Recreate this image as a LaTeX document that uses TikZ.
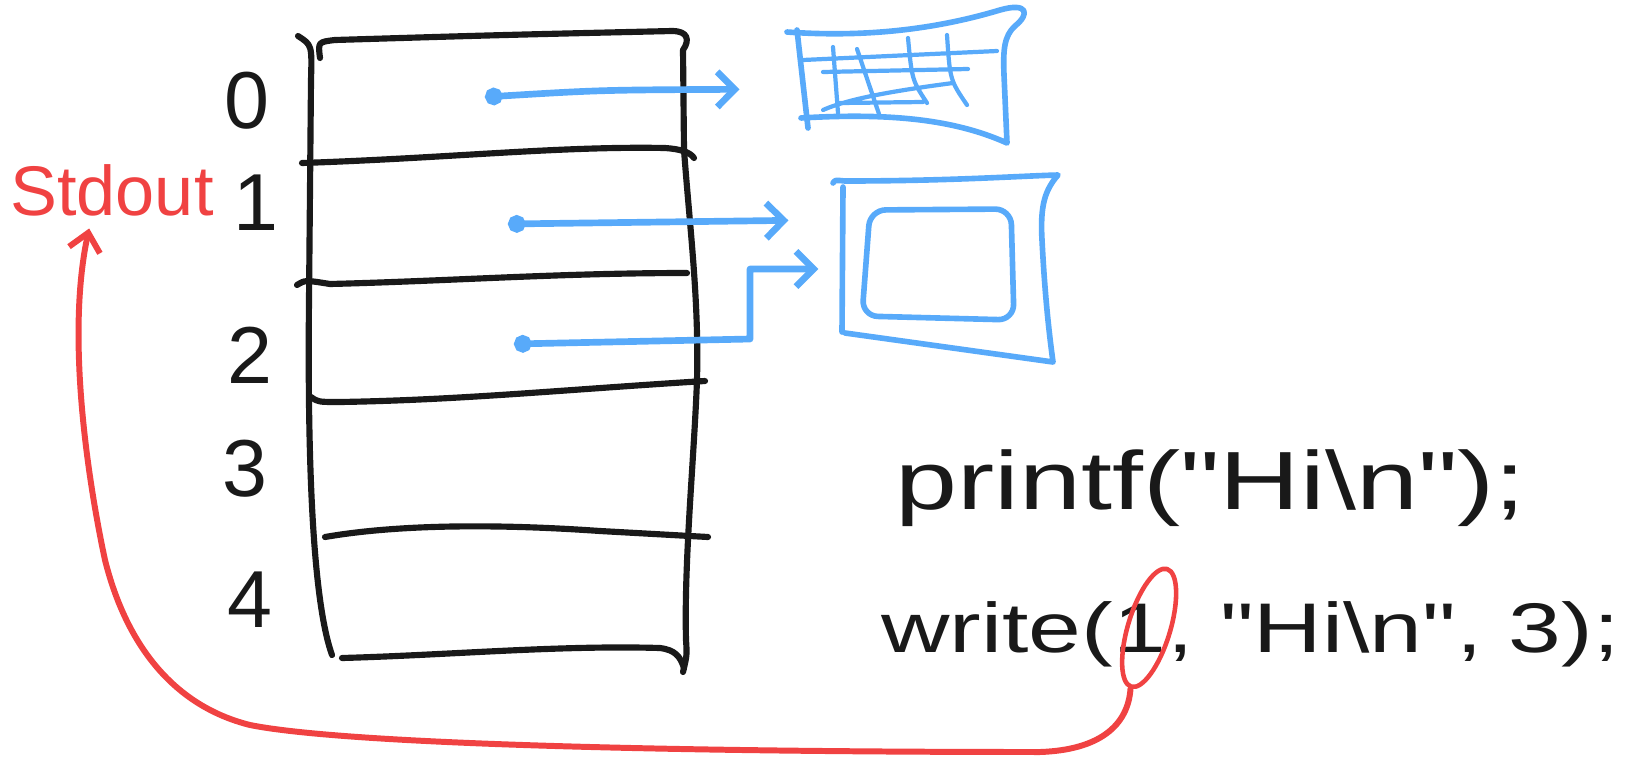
\documentclass[tikz,border=0pt]{standalone}
\usepackage{fontspec}
\setmainfont{Liberation Sans}
\newfontfamily\handfont[FakeStretch=1.35]{Liberation Sans}
\usetikzlibrary{arrows.meta,shapes.geometric}
\definecolor{inkc}{RGB}{25,25,25}
\definecolor{fdblue}{RGB}{88,170,250}
\definecolor{fdred}{RGB}{240,66,66}
\begin{document}
\begin{tikzpicture}[x=0.02cm,y=-0.02cm,line cap=round,line join=round,
  tab/.style={draw=inkc,line width=3.5pt},
  dev/.style={draw=fdblue,line width=3.2pt},
  devthin/.style={draw=fdblue,line width=2.4pt},
  fdline/.style={draw=fdblue,line width=3.8pt,{Circle[length=10pt]}-{Straight Barb[length=10pt,width=20pt]}},
  redline/.style={draw=fdred,line width=3.4pt},
  num/.style={font=\fontsize{46}{50}\selectfont,text=inkc},
  code/.style={anchor=base west,inner sep=0pt,text=inkc},
  devbox/.style={inner sep=0pt}]
\useasboundingbox (0,0) rectangle (1635,761);
% table
\draw[tab] (320,58) .. controls (318,42) .. (335,40) .. controls (500,35) .. (672,31) .. controls (688,31) and (690,40) .. (683,50) -- (684,150) .. controls (690,230) and (699,300) .. (697,380) .. controls (694,460) and (684,560) .. (686,640) .. controls (687,655) .. (683,672);
\draw[tab] (298,36) .. controls (312,45) .. (311,80) -- (309,300) .. controls (307,500) and (316,610) .. (332,655);
\draw[tab] (302,163) .. controls (450,158) and (560,146) .. (665,148) .. controls (680,149) and (690,152) .. (694,158);
\draw[tab] (297,285) .. controls (305,280) .. (330,284) .. controls (450,281) and (560,273) .. (687,273);
\draw[tab] (311,397) .. controls (318,402) .. (340,402) .. controls (460,400) and (560,390) .. (705,381);
\draw[tab] (325,537) .. controls (400,524) and (500,524) .. (600,531) -- (708,537);
\draw[tab] (342,658) .. controls (450,655) and (560,645) .. (660,648) .. controls (675,650) and (680,656) .. (684,668);
\foreach \i/\x/\y in {0/247/101,1/256/203,2/250/355,3/245/469,4/250/600}
  \node[num] (n\i) at (\x,\y) {\i};
\coordinate (p0) at (485,97);
\coordinate (p1) at (508,224);
\coordinate (p2) at (514,344);
% keyboard
\node[devbox,minimum width=128pt,minimum height=77pt] (kbd) at (905,75) {};
\draw[dev] (787,32) .. controls (870,38) and (940,28) .. (1000,10) .. controls (1028,2) and (1030,14) .. (1015,26) .. controls (1004,36) and (1003,50) .. (1004,75) -- (1007,143) .. controls (960,122) and (900,112) .. (801,118);
\draw[dev] (797,30) -- (808,128);
\draw[devthin] (803,60) -- (997,51) (823,72) -- (968,69) (823,110) .. controls (850,98) and (900,90) .. (953,83) (840,103) -- (923,102)
  (833,47) -- (838,113) (857,49) -- (880,117) (908,38) .. controls (912,80) .. (927,103) (947,35) .. controls (950,80) .. (967,105);
% monitor
\node[devbox,minimum width=129pt,minimum height=106pt] (scr) at (946,269) {};
\draw[dev] (833,183) .. controls (835,180) .. (845,181) .. controls (950,181) and (1020,176) .. (1058,175) .. controls (1045,190) and (1040,205) .. (1042,240) .. controls (1045,300) and (1050,340) .. (1053,362) -- (845,333);
\draw[dev] (843,187) -- (842,332);
\draw[dev,rounded corners=9pt] (870,210) -- (1011,209) -- (1014,320) -- (862,316) -- cycle;
% descriptors
\draw[fdline,shorten >=30pt] (p0) .. controls (600,90) .. ([yshift=-8pt]kbd.west);
\draw[fdline,shorten >=25pt] (p1) -- ([yshift=28pt]scr.west);
\draw[fdline,shorten >=8pt] (p2) -- ++(236,-5) |- (scr.west);
% code
\node[code,font=\handfont\fontsize{47}{52}\selectfont] (pf) at (895,509) {printf("Hi\textbackslash n");};
\node[code,font=\handfont\fontsize{40}{44}\selectfont] (wr) at (881,652) {write(};
\node[code,font=\handfont\fontsize{40}{44}\selectfont] (one) at (wr.base east) {1};
\node[code,font=\handfont\fontsize{40}{44}\selectfont] (wrest) at (one.base east) {, "Hi\textbackslash n", 3);};
\node[ellipse,draw=fdred,line width=2.6pt,minimum width=24pt,minimum height=70pt,rotate=-17,inner sep=0pt] (ring) at ([xshift=5pt]one.center) {};
% stdout
\node[text=fdred,inner sep=0pt,font=\fontsize{40}{44}\selectfont] (stdout) at (112,190) {Stdout};
\coordinate (sin) at ([xshift=-13pt,yshift=-7pt]stdout.south);
\draw[redline,-{Straight Barb[length=10pt,width=18pt]}] (ring.south) .. controls (1128,725) and (1100,750) .. (1040,752) .. controls (700,752) and (350,745) .. (250,725) .. controls (170,705) and (125,640) .. (105,560) .. controls (90,490) and (65,340) .. (sin);
\end{tikzpicture}
\end{document}
